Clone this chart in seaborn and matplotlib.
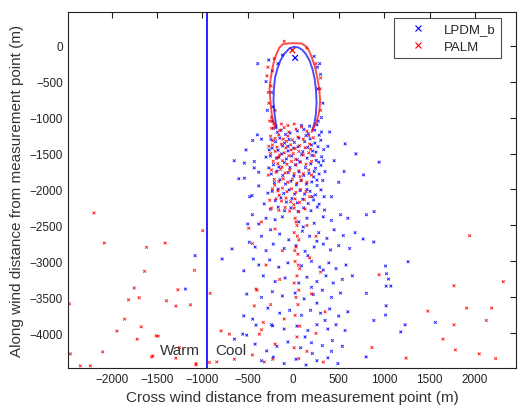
import matplotlib
matplotlib.use("Agg")
import matplotlib.pyplot as plt
from matplotlib.lines import Line2D
import seaborn as sns
import pandas as pd

# ---------------- data ----------------
# outlines of the plume (dense ring of footprint points)
palm_ring_x = [-200, -235, -250, -262, -250, -235, -215, -190, -155, -115, -60, 0, 50, 90, 130, 170, 205, 240, 262, 285, 295, 290, 275, 255, 230, 200]
palm_ring_y = [-1150, -980, -800, -600, -470, -350, -230, -130, -30, 20, 30, 35, 32, 30, 0, -60, -170, -300, -430, -600, -750, -880, -980, -1060, -1120, -1200]
lpdm_ring_x = [-185, -205, -218, -214, -200, -175, -140, -95, -45, 10, 55, 100, 140, 180, 212, 236, 250, 256, 248, 232, 210]
lpdm_ring_y = [-1150, -960, -780, -600, -440, -320, -200, -110, -40, -15, -25, -60, -120, -210, -330, -470, -630, -800, -960, -1080, -1180]

# measurement-point markers
lpdm_peak_x = [20]
lpdm_peak_y = [-170]
palm_peak_x = [-10]
palm_peak_y = [-65]

lpdm_pts = [
    # core
    (-220,-1150),(-175,-1205),(-135,-1175),(-85,-1235),(-35,-1215),(45,-1185),(115,-1165),(165,-1225),(235,-1175),(285,-1245),
    (-245,-1305),(-195,-1335),(-148,-1285),(-96,-1355),(-45,-1305),(12,-1345),(62,-1285),(125,-1335),(185,-1295),(238,-1355),(302,-1315),
    (-232,-1425),(-168,-1455),(-118,-1395),(-58,-1465),(4,-1425),(52,-1405),(104,-1475),(158,-1415),(212,-1465),(272,-1405),(335,-1445),
    (-252,-1535),(-186,-1565),(-128,-1505),(-76,-1575),(-18,-1535),(44,-1585),(92,-1515),(152,-1565),(204,-1525),(252,-1595),(312,-1545),
    (-218,-1655),(-158,-1685),(-98,-1625),(-36,-1695),(24,-1655),(72,-1615),(134,-1695),(192,-1645),(244,-1705),(304,-1665),
    (-242,-1785),(-178,-1745),(-116,-1805),(-56,-1765),(6,-1815),(64,-1755),(114,-1805),(174,-1775),(224,-1825),(284,-1785),
    (-208,-1905),(-146,-1865),(-86,-1925),(-26,-1885),(34,-1935),(84,-1875),(144,-1925),(204,-1895),(262,-1945),(324,-1875),
    (-232,-2025),(-166,-1995),(-106,-2055),(-46,-2005),(14,-2065),(74,-2015),(124,-2065),(184,-2025),(244,-2075),(304,-2005),
    (-198,-2155),(-136,-2115),(-76,-2175),(-16,-2125),(44,-2185),(104,-2135),(164,-2195),(224,-2145),(284,-2205),
    (-252,-2275),(-166,-2245),(-96,-2295),(-26,-2255),(54,-2305),(114,-2255),(194,-2295),(264,-2245),(344,-2285),
    (140,-1250),(200,-1380),(250,-1480),(280,-1620),(230,-1750),(260,-1870),(150,-2000),(210,-2100),(-60,-1400),(-160,-1550),
    (90,-1110),(180,-1120),(260,-1100),(310,-1200),(330,-1600),(350,-1750),(340,-2100),(-270,-1700),(-280,-2050),(-265,-1450),
    # ring fuzz
    (-300,-500),(-285,-900),(-270,-200),(300,-400),(325,-800),(310,-1000),(290,-250),(-240,-650),(270,-600),(-230,-1050),
    (-230,-350),(-225,-850),(275,-1050),(265,-300),(-170,-250),(230,-150),(-120,-130),
    # lower plume
    (-450,-2350),(-380,-2480),(-300,-2400),(-200,-2420),(-120,-2380),(60,-2450),(150,-2400),(230,-2470),(330,-2380),(420,-2430),(520,-2350),(600,-2400),
    (-350,-2650),(-250,-2560),(-150,-2620),(-50,-2700),(100,-2580),(180,-2650),(280,-2600),(370,-2680),(450,-2560),(550,-2640),(680,-2600),
    (-420,-2800),(-300,-2850),(-220,-2760),(-100,-2820),(30,-2780),(130,-2860),(230,-2800),(330,-2760),(410,-2840),(500,-2780),(620,-2820),
    (-380,-3050),(-260,-2980),(-160,-3080),(-60,-3020),(90,-3060),(200,-3000),(290,-3080),(390,-3020),(470,-3100),(580,-3050),
    (-330,-3200),(-200,-3280),(-90,-3230),(60,-3300),(150,-3220),(260,-3280),(360,-3200),(440,-3300),(540,-3250),(650,-3200),
    (-350,-3500),(-230,-3420),(-120,-3480),(20,-3440),(120,-3520),(220,-3460),(320,-3400),(420,-3500),(520,-3440),
    (-280,-3650),(-150,-3720),(-40,-3680),(90,-3750),(190,-3680),(300,-3720),(400,-3660),(500,-3760),(600,-3700),
    (-240,-3880),(-100,-3940),(40,-3900),(160,-3960),(260,-3880),(380,-3940),(470,-3880),(570,-3960),
    (-420,-4150),(-180,-4180),(-60,-4120),(80,-4200),(200,-4130),(320,-4170),(430,-4100),(540,-4180),
    (-350,-4380),(-220,-4330),(-100,-4420),(30,-4360),(140,-4440),(260,-4380),(380,-4340),(490,-4420),
    (110,-2520),(260,-2720),(160,-2920),(330,-3120),(200,-3360),(260,-3580),(350,-3820),(130,-4050),(420,-4250),(210,-4280),
    # scattered beside the core
    (-650,-1600),(-600,-1850),(-520,-1450),(-480,-2100),(-430,-1700),(-380,-1950),(-350,-1300),(-320,-2200),(-300,-1550),
    (-392,-250),(-395,-1240),(-447,-1319),(-429,-1611),(-538,-1634),(-538,-1843),(-381,-1760),(-454,-2085),
    (400,-1200),(450,-1600),(500,-1900),(420,-2100),(380,-1400),(560,-1750),(571,-1365),(689,-1504),(773,-1797),(945,-1620),
    # far field
    (-1080,-2920),(-1187,-3384),(-783,-2967),(-674,-2827),(-545,-3130),(-502,-2480),(-484,-2734),(-440,-2967),
    (-545,-3757),(-447,-3802),(-513,-3454),(-557,-4011),(-410,-3886),(-513,-4025),(-648,-4081),(-293,-4244),(-227,-3895),
    (1264,-3004),(1015,-3064),(1026,-3171),(1048,-3245),(1022,-3343),(1073,-3343),(805,-3444),(1022,-3617),(1015,-3746),
    (1564,-3848),(1231,-3881),(1183,-3979),(886,-3821),(886,-2730),(769,-2688),(805,-2350),(890,-2308),(802,-4327),
]

palm_pts = [
    # core
    (-240,-1150),(-190,-1120),(-150,-1180),(-100,-1140),(-50,-1200),(30,-1160),(90,-1130),(150,-1190),
    (-250,-1260),(-200,-1290),(-160,-1240),(-110,-1300),(-60,-1260),(-10,-1310),(50,-1270),(110,-1300),(170,-1250),(220,-1280),
    (-230,-1380),(-180,-1410),(-130,-1370),(-80,-1420),(-30,-1380),(20,-1430),(70,-1390),(130,-1420),(180,-1370),
    (-250,-1500),(-200,-1470),(-150,-1520),(-100,-1490),(-50,-1530),(0,-1500),(60,-1470),(110,-1520),(170,-1490),(230,-1530),
    (-220,-1610),(-170,-1640),(-120,-1600),(-70,-1650),(-20,-1610),(30,-1660),(80,-1620),(140,-1650),(200,-1610),
    (-240,-1730),(-190,-1760),(-140,-1720),(-90,-1770),(-40,-1730),(10,-1780),(60,-1740),(110,-1780),(170,-1730),
    (-210,-1860),(-160,-1890),(-110,-1850),(-60,-1900),(-10,-1860),(40,-1910),(90,-1870),(150,-1900),
    (-230,-1990),(-170,-2020),(-120,-1980),(-70,-2030),(-20,-1990),(30,-2040),(80,-2000),(140,-2030),
    (-190,-2130),(-130,-2160),(-80,-2120),(-30,-2170),(20,-2130),(70,-2180),(120,-2140),
    (-240,-2260),(-160,-2290),(-90,-2250),(-40,-2300),(10,-2260),(60,-2310),(130,-2270),
    (-225,-1320),(-175,-1560),(-125,-1690),(-75,-1330),(-25,-1450),(25,-1580),(75,-1820),(-205,-1940),(-155,-2080),(5,-2210),
    (-215,-1080),(-130,-1090),(-60,-1110),(10,-1090),(-270,-1400),(-275,-1800),(-260,-2150),(190,-1440),(200,-1800),(180,-2100),
    # ring fuzz
    (-290,-420),(-270,-800),(-260,-1050),(295,-600),(300,-900),(-280,-300),(-200,-900),
    (-245,-560),(-275,-650),(-210,-180),(-240,-1000),(300,-450),(250,-250),(150,-30),(-100,60),
    # column under the source and lower plume
    (20,-2400),(40,-2500),(10,-2600),(60,-2700),(30,-2800),(50,-2900),(20,-3000),(70,-3100),(40,-3200),(10,-3300),(60,-3400),
    (30,-3500),(50,-3600),(20,-3750),(70,-3900),(40,-4050),(10,-4200),(60,-4350),(30,-2450),(45,-2650),(15,-2850),(55,-3050),
    (-350,-2450),(-200,-2550),(150,-2500),(250,-2650),(-450,-2750),(-120,-2850),(180,-2950),(-300,-3050),(300,-3150),(-150,-3250),
    (-400,-3400),(200,-3450),(-250,-3600),(350,-3700),(-100,-3800),(-350,-3950),(250,-4000),(-200,-4150),(150,-4250),(-450,-4300),
    (330,-4400),(-491,-2539),(-410,-3384),(-429,-3617),(-330,-3848),(-374,-4011),(-319,-4397),(-227,-4360),
    # far field
    (-2080,-2744),(-1615,-2804),(-1410,-2744),(-997,-2572),(-1088,-3124),(-1637,-3138),(-1751,-3370),(-1271,-3394),
    (-1813,-3533),(-1696,-3505),(-1396,-3547),(-1293,-3621),(-1132,-3603),(-2465,-3589),(-1857,-3802),(-1942,-3969),
    (-1674,-3909),(-1718,-4081),(-1487,-4039),(-2099,-4258),(-2454,-4285),(-1560,-4327),(-1293,-4345),(-2344,-4452),
    (-2234,-4452),(-1073,-4438),(-2194,-2326),(-915,-3444),(-795,-3965),(-703,-4011),(-923,-4405),(-843,-4397),(-648,-4360),
    (-1069,-4420),(-1509,-4035),(-1253,-4197),(-1546,-4313),
    (1941,-2642),(2311,-3282),(1769,-3338),(945,-3185),(1480,-3691),(1908,-3649),(2183,-3649),(2125,-3821),(1769,-3881),
    (1648,-4081),(1784,-4229),(2047,-4285),(2227,-4350),(865,-4197),(1242,-4345),
]

divide_x = -950
x_ticks = [-2000, -1500, -1000, -500, 0, 500, 1000, 1500, 2000]
y_ticks = [0, -500, -1000, -1500, -2000, -2500, -3000, -3500, -4000]
series_names = ["LPDM_b", "PALM"]

# ---------------- figure ----------------
sns.set_style("white")
plt.rcParams["font.family"] = ["Liberation Sans", "DejaVu Sans"]

fig = plt.figure(figsize=(5.19, 4.14), dpi=100)
ax = fig.add_axes([0.131, 0.109, 0.863, 0.860])

df = pd.DataFrame(
    [(x, y, "LPDM_b") for x, y in lpdm_pts] + [(x, y, "PALM") for x, y in palm_pts],
    columns=["x", "y", "model"],
)
palette = {"LPDM_b": "#0000ff", "PALM": "#ff0000"}

sns.scatterplot(data=df, x="x", y="y", hue="model", palette=palette, marker="x",
                s=4, linewidth=0.7, alpha=0.8, legend=False, ax=ax)

ring_df = pd.DataFrame({
    "x": lpdm_ring_x + palm_ring_x,
    "y": lpdm_ring_y + palm_ring_y,
    "model": ["LPDM_b"] * len(lpdm_ring_x) + ["PALM"] * len(palm_ring_x),
})
for name in series_names:
    sub = ring_df[ring_df["model"] == name]
    sns.lineplot(data=sub, x="x", y="y", sort=False, estimator=None, color=palette[name],
                 linewidth=1.4, alpha=0.7, ax=ax, legend=False)

peak_df = pd.DataFrame({"x": lpdm_peak_x + palm_peak_x, "y": lpdm_peak_y + palm_peak_y,
                        "model": ["LPDM_b", "PALM"]})
sns.scatterplot(data=peak_df, x="x", y="y", hue="model", palette=palette, marker="x",
                s=16, linewidth=0.9, legend=False, ax=ax)

ax.axvline(divide_x, color="#0000ff", linewidth=1.2)
ax.text(-1030, -4230, "Warm", ha="right", va="center", fontsize=11, color="#333333")
ax.text(-860, -4230, "Cool", ha="left", va="center", fontsize=11, color="#333333")

ax.set_xlim(-2480, 2450)
ax.set_ylim(-4480, 470)
ax.set_xticks(x_ticks)
ax.set_yticks(y_ticks)
ax.tick_params(direction="in", top=True, right=True, length=4, labelsize=8.5,
               colors="#222222", width=0.8)
for sp in ax.spines.values():
    sp.set_color("#222222")
    sp.set_linewidth(0.8)
ax.set_xlabel("Cross wind distance from measurement point (m)", fontsize=11, color="#333333")
ax.set_ylabel("Along wind distance from measurement point (m)", fontsize=11, color="#333333")

handles = [Line2D([], [], linestyle="none", marker="x", markersize=4.5, markeredgewidth=0.8,
                  color=palette[n]) for n in series_names]
leg = ax.legend(handles, series_names, loc="upper right", bbox_to_anchor=(0.967, 0.983),
                borderaxespad=0, fontsize=9.5, frameon=True, fancybox=False,
                handlelength=2.8, handletextpad=0.6, borderpad=0.4, labelspacing=0.4)
leg.get_frame().set_edgecolor("#222222")
leg.get_frame().set_linewidth(0.8)

fig.savefig("out.png", dpi=100)
